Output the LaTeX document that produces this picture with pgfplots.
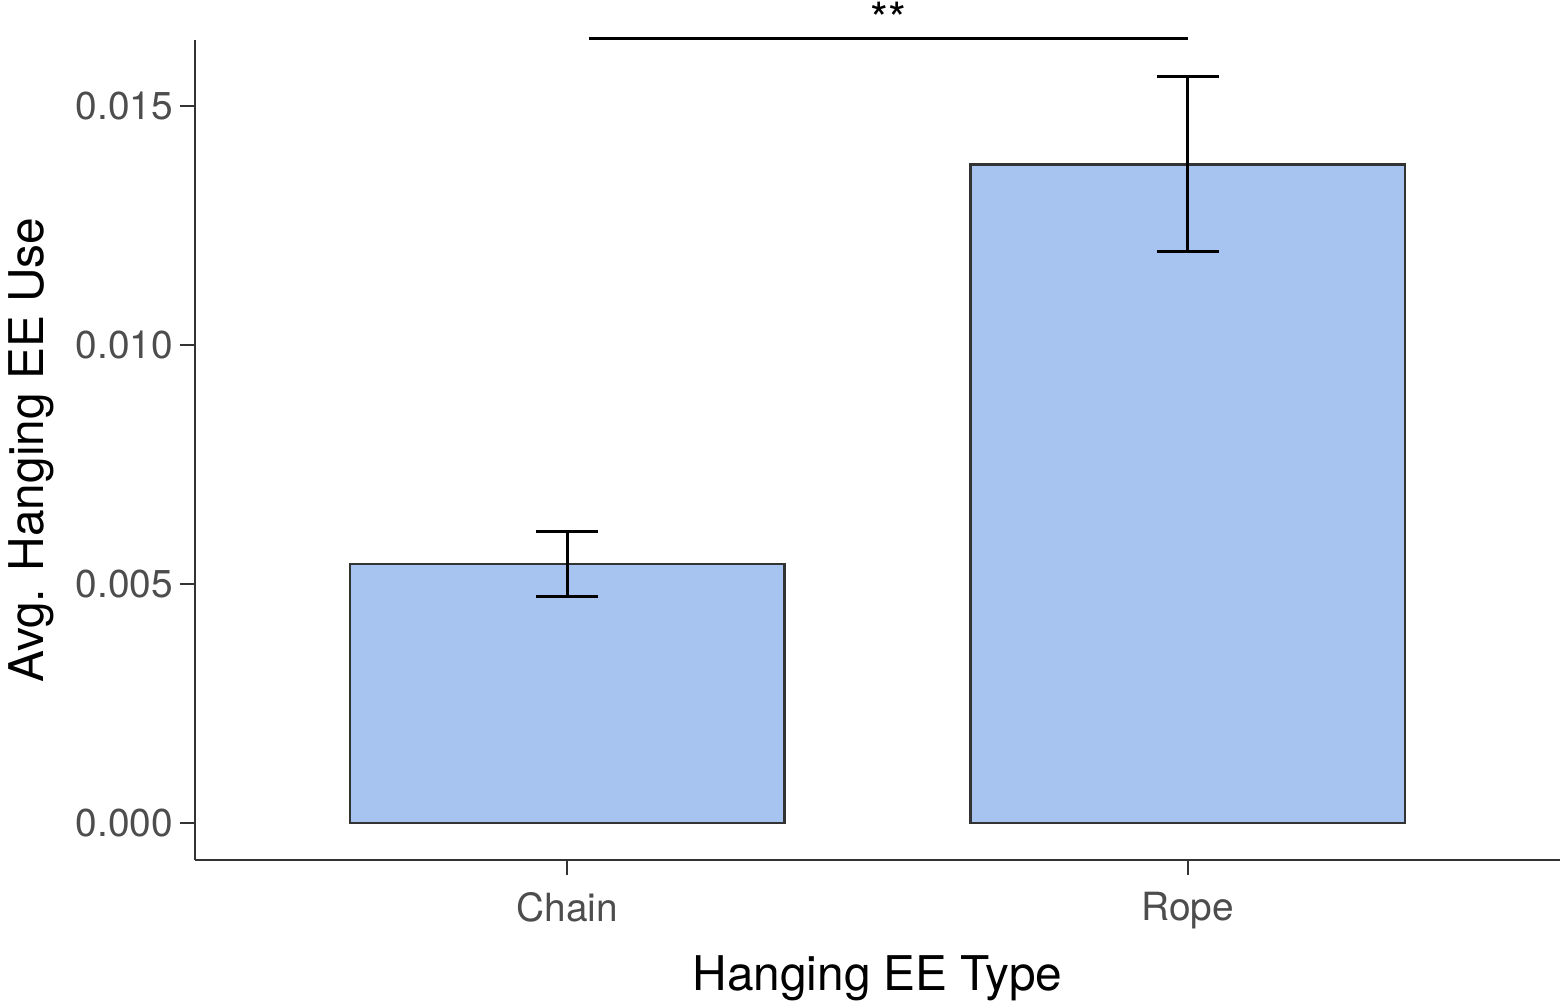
\documentclass[border=0pt]{standalone}
\usepackage{pgfplots}
\pgfplotsset{compat=1.18}
\usepackage{fontspec}
\setmainfont{TeX Gyre Heros}
\definecolor{barfill}{HTML}{A7C4F0}
\definecolor{edge}{HTML}{333333}
\definecolor{ticktext}{HTML}{4D4D4D}
\begin{document}
\begin{tikzpicture}
\begin{axis}[
  at={(0,0)}, anchor=south west,
  scale only axis, width=682.5bp, height=410bp,
  xmin=0.4, xmax=2.6, ymin=-0.00077, ymax=0.01638,
  axis lines=left,
  axis line style={-, edge, line width=1.2bp},
  xtick={1,2}, xticklabels={Chain,Rope},
  ytick={0,0.005,0.01,0.015}, yticklabels={0.000,0.005,0.010,0.015},
  scaled y ticks=false,
  tick align=outside, major tick length=7.5bp,
  tick style={edge, line width=1.2bp},
  ticklabel style={font=\fontsize{19.5}{21}\selectfont, text=ticktext},
  xticklabel style={yshift=-5bp},
  xlabel={Hanging EE Type}, ylabel={Avg. Hanging EE Use},
  label style={font=\fontsize{24}{27}\selectfont, text=black},
  xlabel style={at={(axis description cs:0.5,-0.1439)}, anchor=center},
  ylabel style={at={(axis description cs:-0.1201,0.5)}, anchor=center},
  clip=false,
  /pgf/number format/assume math mode=true,
]
\addplot[ybar, bar width=0.7, fill=barfill, draw=edge, line width=1.2bp]
  coordinates {(1,0.005418) (2,0.01378)};
\addplot[forget plot, draw=none, mark=none,
  error bars/.cd, y dir=both, y explicit,
  error bar style={draw=black, line width=1.5bp},
  error mark options={draw=black, line width=1.5bp, mark size=15.5bp, rotate=90}]
  coordinates {(1,0.005418) +- (0,0.000674) (2,0.01378) +- (0,0.001826)};
\addplot[black, line width=1.5bp] coordinates {(1.035,0.01642) (2.0,0.01642)};
\node[font=\fontsize{23}{25}\selectfont, text=black, anchor=base] at (axis cs:1.518,0.01647) {**};
\end{axis}
\pgfresetboundingbox
\path[use as bounding box] (-97.5bp,-74bp) rectangle (686.5bp,430bp);
\end{tikzpicture}
\end{document}
